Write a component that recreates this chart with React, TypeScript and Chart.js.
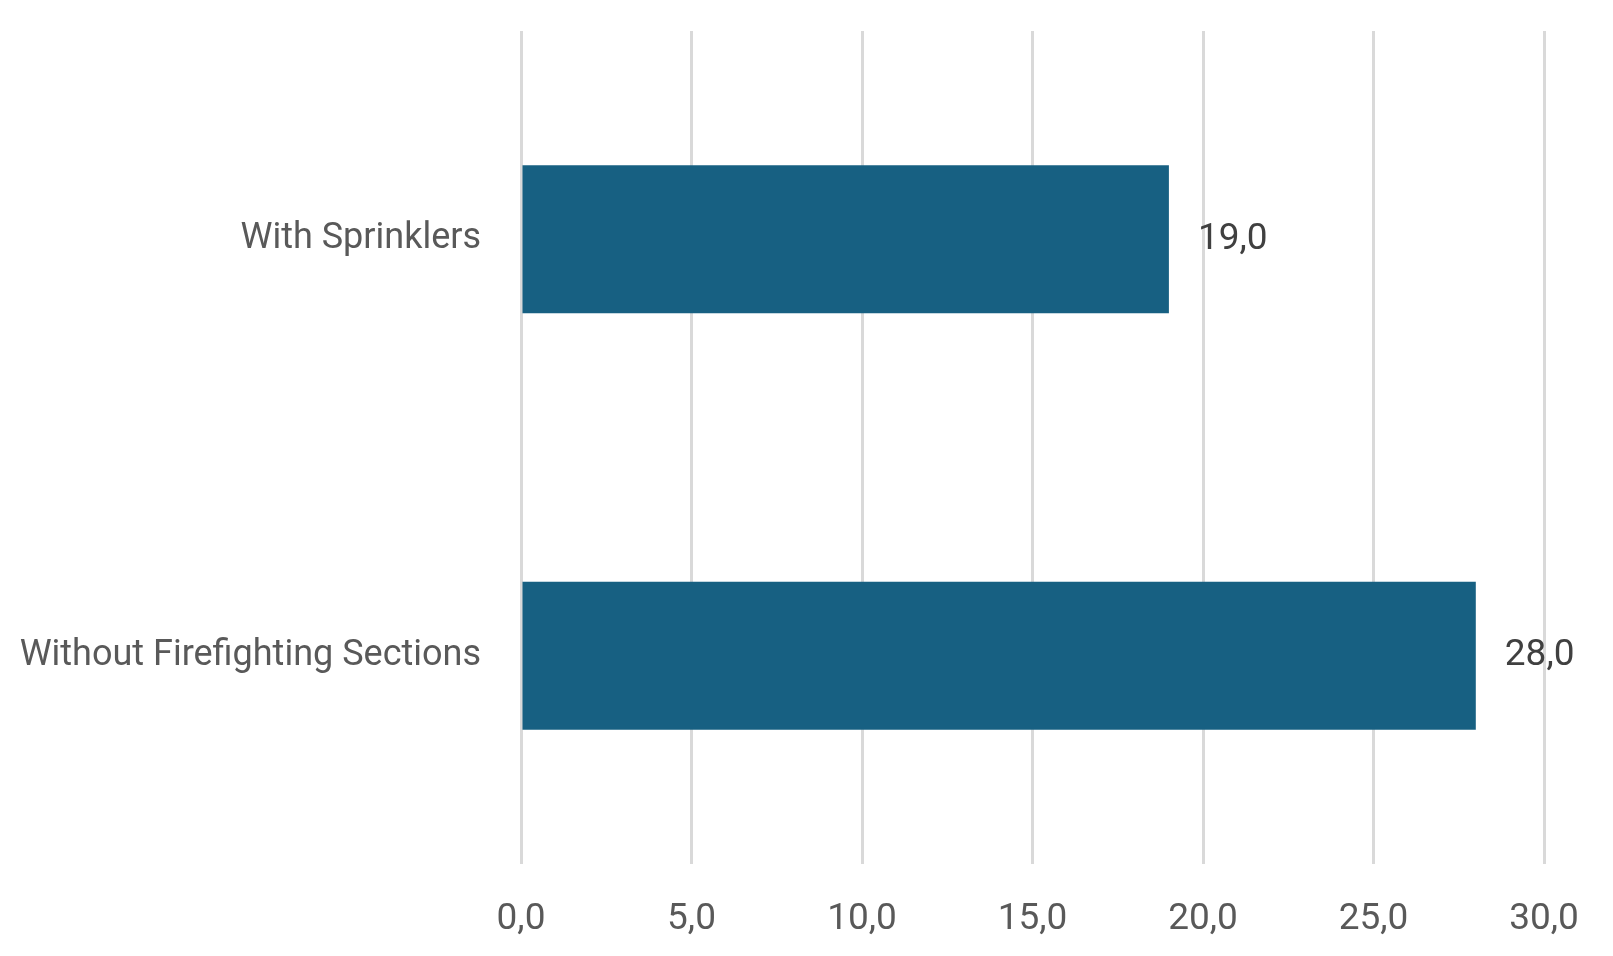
import { useEffect, useRef } from "react";
import { Chart, registerables } from "chart.js";

Chart.register(...registerables);

const categories = ["With Sprinklers", "Without Firefighting Sections"];
const values = [19.0, 28.0];
const axisMin = 0;
const axisMax = 30;
const axisStep = 5;

const FONT = "Roboto, 'Liberation Sans', sans-serif";
const fmt = (v: number) => v.toFixed(1).replace(".", ",");

// draws the value next to the end of each bar
const barLabels = {
  id: "barLabels",
  afterDatasetsDraw(chart: Chart) {
    const ctx = chart.ctx;
    const meta = chart.getDatasetMeta(0);
    ctx.save();
    ctx.font = `37px ${FONT}`;
    ctx.fillStyle = "#404040";
    ctx.textAlign = "left";
    ctx.textBaseline = "middle";
    meta.data.forEach((bar: any, i: number) => {
      ctx.fillText(fmt(values[i]), bar.x + 29, bar.y);
    });
    ctx.restore();
  },
};

const App = () => {
  const canvasRef = useRef<HTMLCanvasElement | null>(null);

  useEffect(() => {
    if (!canvasRef.current) return;
    const chart = new Chart(canvasRef.current, {
      type: "bar",
      data: {
        labels: categories,
        datasets: [
          {
            data: values,
            backgroundColor: "#176082",
            barPercentage: 0.355,
            categoryPercentage: 1,
          },
        ],
      },
      plugins: [barLabels],
      options: {
        indexAxis: "y",
        responsive: true,
        maintainAspectRatio: false,
        animation: false,
        layout: { padding: { top: 31, right: 69, bottom: 0, left: 0 } },
        plugins: {
          legend: { display: false },
          tooltip: { enabled: false },
        },
        scales: {
          x: {
            min: axisMin,
            max: axisMax,
            border: { display: false },
            grid: { color: "#d9d9d9", lineWidth: 3, drawTicks: false },
            ticks: {
              stepSize: axisStep,
              padding: 34,
              color: "#595959",
              font: { family: FONT, size: 37 },
              callback: (v: any) => fmt(Number(v)),
            },
            afterFit: (scale: any) => {
              scale.height = 92;
            },
          },
          y: {
            border: { display: false },
            grid: { display: false, drawTicks: false },
            ticks: {
              padding: 40,
              color: "#595959",
              font: { family: FONT, size: 36 },
            },
            afterFit: (scale: any) => {
              scale.width = 521;
              scale.paddingTop = 0;
              scale.paddingBottom = 0;
            },
          },
        },
      },
    });
    return () => chart.destroy();
  }, []);

  return (
    <div style={{ position: "fixed", left: 0, top: 0, width: 1613, height: 956, background: "#fff" }}>
      <canvas ref={canvasRef}></canvas>
    </div>
  );
};

export default App;
